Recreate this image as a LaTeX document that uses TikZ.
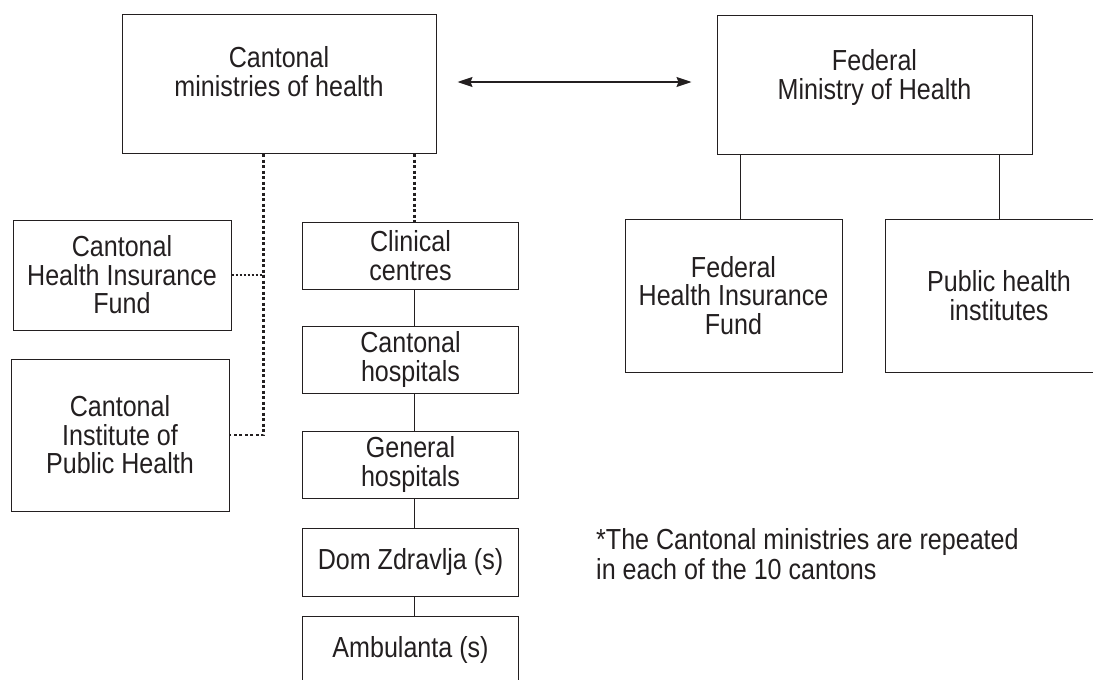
\documentclass[tikz,border=0pt]{standalone}
\usepackage{fontspec}
\setmainfont{Liberation Sans}[FakeStretch=0.865]
\usepackage{xcolor}
\usepackage{tikz}
\usetikzlibrary{arrows.meta}
\definecolor{ink}{HTML}{231F20}

\begin{document}
\begin{tikzpicture}[x=1pt, y=-1pt, box/.style={draw=ink, line width=1pt, text=ink, inner sep=0pt, align=center, font=\fontsize{29}{28.5}\selectfont}, boxtext/.style={text=ink, inner sep=0pt, align=center, font=\fontsize{29}{28.5}\selectfont}, note/.style={text=ink, inner sep=0pt, align=left, font=\fontsize{29}{30}\selectfont}, link/.style={draw=ink, line width=1pt}, dashline/.style={draw=ink, line width=2.2pt, dash pattern=on 3pt off 2.5pt}, dotline/.style={draw=ink, line width=2.2pt, dash pattern=on 2pt off 2pt}, biarrow/.style={draw=ink, line width=1.4pt, {Stealth[length=15pt, width=10pt, inset=2pt]}-{Stealth[length=15pt, width=10pt, inset=2pt]}}]
	\useasboundingbox (0,0) rectangle (1093,680);
	\clip (0,0) rectangle (1093,680);
	% ministries
	\node[box, minimum width=314pt, minimum height=139pt] (cmh) at (279,84) {};
	\node[boxtext] (cmhtext) at ([yshift=12.5pt]cmh.center) {Cantonal\\ministries of health};
	\node[box, minimum width=315pt, minimum height=139pt] (fmh) at (874.5,84.5) {};
	\node[boxtext] (fmhtext) at ([yshift=7pt]fmh.center) {Federal\\Ministry of Health};
	\draw[biarrow, shorten <=21pt, shorten >=25pt] ([yshift=2pt]cmh.east) -- ([yshift=2pt]cmh.east -| fmh.west);
	% federal level
	\node[box, minimum width=217pt, minimum height=153pt] (fhif) at (733.5,295.5) {Federal\\Health Insurance\\Fund};
	\node[box, minimum width=228pt, minimum height=153pt] (phi) at (999,295.5) {Public health\\institutes};
	\coordinate (ffork) at ([xshift=24pt]fmh.south west);
	\draw[link] (ffork) -- (ffork |- fhif.north);
	\draw[link] (phi.north |- fmh.south) -- (phi.north);
	% cantonal level
	\node[box, minimum width=218pt, minimum height=110pt] (chif) at (122,275) {Cantonal\\Health Insurance\\Fund};
	\node[box, minimum width=218pt, minimum height=152pt] (ciph) at (120,435) {Cantonal\\Institute of\\Public Health};
	\node[box, minimum width=216pt, minimum height=67pt] (clin) at (410.5,255.5) {Clinical\\centres};
	\node[box, minimum width=216pt, minimum height=67pt] (canh) at (410.5,359.5) {Cantonal\\hospitals};
	\node[box, minimum width=216pt, minimum height=67pt] (genh) at (410.5,464.5) {General\\hospitals};
	\node[box, minimum width=216pt, minimum height=68pt] (dom) at (410.5,562) {Dom Zdravlja (s)};
	\node[box, minimum width=216pt, minimum height=68pt] (amb) at (410.5,650) {Ambulanta (s)};
	\coordinate (lfork) at ([xshift=142pt]cmh.south west);
	\coordinate (rfork) at ([xshift=293pt]cmh.south west);
	\draw[dashline] (lfork) |- (ciph.east);
	\draw[dotline] (chif.east) -- (chif.east -| lfork);
	\draw[dashline] (rfork) -- (rfork |- clin.north);
	\foreach \a/\b in {clin/canh, canh/genh, genh/dom, dom/amb}
		\draw[link] (rfork |- \a.south) -- (rfork |- \b.north);
	% remark
	\node[note, anchor=west] (remark) at (596,554.5) {*The Cantonal ministries are repeated\\in each of the 10 cantons};
\end{tikzpicture}
\end{document}
